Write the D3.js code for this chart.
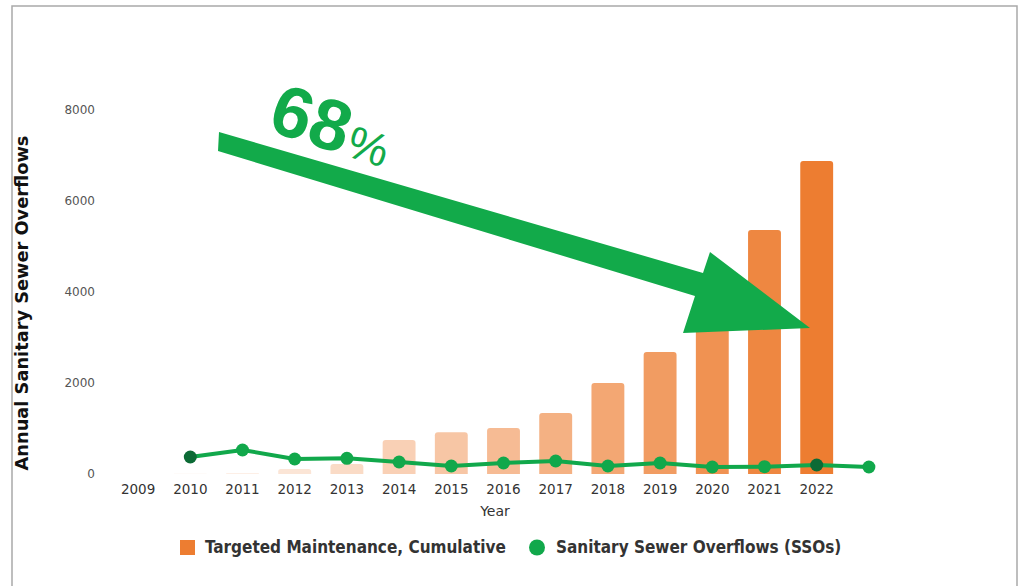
<!DOCTYPE html>
<html><head><meta charset="utf-8">
<script src="https://cdn.jsdelivr.net/npm/d3@7"></script>
<style>
html,body{margin:0;padding:0;background:#fff;}
svg{display:block;}
</style></head>
<body>
<script>
// ---- data ----
const years = [2009,2010,2011,2012,2013,2014,2015,2016,2017,2018,2019,2020,2021,2022,2023];
const yearLabels = ["2009","2010","2011","2012","2013","2014","2015","2016","2017","2018","2019","2020","2021","2022",""];
const maintenance = [0,15,20,110,220,750,920,1010,1340,2000,2680,3500,5360,6880,null];
const ssos = [null,374,527,330,345,264,176,242,286,176,242,154,160,198,154];
const highlightYears = [2010,2022];
const yTicks = [0,2000,4000,6000,8000];
const seriesNames = ["Targeted Maintenance, Cumulative","Sanitary Sewer Overflows (SSOs)"];
const annotationText = "68";
const annotationUnit = "%";

const W = 1018, H = 586;
const orange = "#ed7d31", green = "#11a84b", darkGreen = "#0c6a35";

const svg = d3.select("body").append("svg").attr("width", W).attr("height", H);

// frame
svg.append("rect").attr("x",12).attr("y",6).attr("width",1005).attr("height",H)
  .attr("fill","#fff").attr("stroke","#a9a9a9").attr("stroke-width",1.5);

const x = d3.scaleBand().domain(years).range([112, 895]).paddingInner(0.37).paddingOuter(0.185);
const y = d3.scaleLinear().domain([0, 8000]).range([474, 110]);
const opac = d3.scaleLinear().domain([1, 13]).range([0.04, 1]).clamp(true);

// y axis
const yAxis = svg.append("g").attr("transform","translate(97,0)")
  .call(d3.axisLeft(y).tickValues(yTicks).tickSize(0).tickPadding(2).tickFormat(d3.format("d")));
yAxis.select(".domain").remove();
yAxis.selectAll("text").attr("font-family","DejaVu Sans, Verdana, sans-serif")
  .attr("font-size",12).attr("fill","#555").attr("dy","0.32em");

// x axis
const xAxis = svg.append("g").attr("transform","translate(0,480)")
  .call(d3.axisBottom(x).tickSize(0).tickPadding(4).tickFormat((d,i)=>yearLabels[i]));
xAxis.select(".domain").remove();
xAxis.selectAll("text").attr("font-family","DejaVu Sans, Verdana, sans-serif")
  .attr("font-size",13.5).attr("fill","#333");

svg.append("text").attr("x",495).attr("y",516).attr("text-anchor","middle")
  .attr("font-family","DejaVu Sans, Verdana, sans-serif").attr("font-size",14).attr("fill","#333")
  .text("Year");

svg.append("text").attr("transform","translate(28,303) rotate(-90)").attr("text-anchor","middle")
  .attr("font-family","DejaVu Sans, Verdana, sans-serif").attr("font-weight","bold")
  .attr("font-size",17.8).attr("fill","#111").text("Annual Sanitary Sewer Overflows");

// bars
const barData = years.map((yr,i)=>({yr, v: maintenance[i], i})).filter(d=>d.v!=null && d.v>0);
svg.append("g").selectAll("path").data(barData).join("path")
  .attr("d", d=>{
    const x0 = x(d.yr), w = x.bandwidth(), y0 = y(d.v), y1 = y(0);
    const r = Math.min(3, (y1-y0)/2);
    return `M${x0},${y1}V${y0+r}Q${x0},${y0} ${x0+r},${y0}H${x0+w-r}Q${x0+w},${y0} ${x0+w},${y0+r}V${y1}Z`;
  })
  .attr("fill", orange).attr("fill-opacity", d=>opac(d.i));

// SSO line
const lineData = years.map((yr,i)=>({yr, v: ssos[i]})).filter(d=>d.v!=null);
const cx = d=>x(d.yr)+x.bandwidth()/2;
svg.append("path").datum(lineData)
  .attr("d", d3.line().x(cx).y(d=>y(d.v)))
  .attr("fill","none").attr("stroke",green).attr("stroke-width",4).attr("stroke-linejoin","round");
svg.append("g").selectAll("circle").data(lineData).join("circle")
  .attr("cx",cx).attr("cy",d=>y(d.v)).attr("r",6.5)
  .attr("fill",d=>highlightYears.includes(d.yr)?darkGreen:green);

// annotation arrow
svg.append("path")
  .attr("d","M219,132 L703,273 L710,252 L810,328 L683,333 L695,296 L218,151 Z")
  .attr("fill","#12aa4a");

const ann = svg.append("text").attr("transform","translate(266,130) rotate(18)")
  .attr("font-family","Liberation Sans, Arial, sans-serif").attr("fill","#12aa4a");
ann.append("tspan").attr("font-weight","bold").attr("font-size",72).text(annotationText);
ann.append("tspan").attr("font-size",46).attr("dx",2).text(annotationUnit);

// legend
const lg = svg.append("g").attr("font-family","DejaVu Sans Condensed, DejaVu Sans, sans-serif")
  .attr("font-weight","bold").attr("font-size",17).attr("fill","#333");
lg.append("rect").attr("x",180).attr("y",540).attr("width",15).attr("height",15).attr("fill",orange);
lg.append("text").attr("x",205).attr("y",547.5).attr("dy","0.35em").text(seriesNames[0]);
lg.append("circle").attr("cx",537).attr("cy",547.5).attr("r",8).attr("fill",green);
lg.append("text").attr("x",556).attr("y",547.5).attr("dy","0.35em").text(seriesNames[1]);
</script>
</body></html>
